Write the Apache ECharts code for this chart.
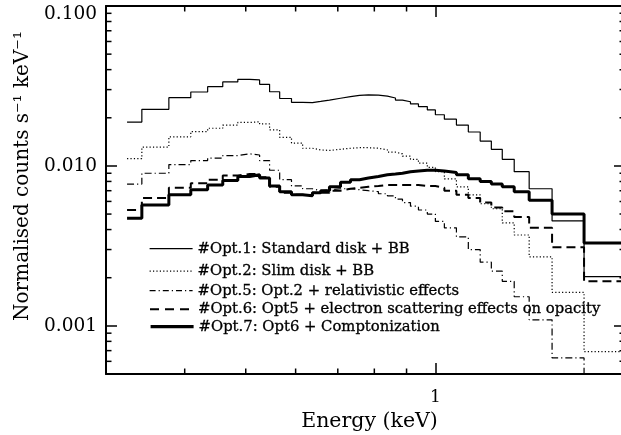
<!DOCTYPE html>
<html><head><meta charset="utf-8">
<script src="https://cdn.jsdelivr.net/npm/echarts@6/dist/echarts.min.js"></script>
<style>html,body{margin:0;padding:0;background:#fff}#c{width:621px;height:435px}</style>
</head><body><div id="c"></div>
<script>
// Bin edges in keV (39 edges -> 38 bins)
const binEdges = [0.324,0.342,0.3775,0.409,0.435,0.4597,0.4857,0.5073,0.526,0.5455,0.566,0.591,0.6155,0.638,0.6575,0.679,0.707,0.7333,0.7578,0.783,0.812,0.8392,0.8642,0.8867,0.913,0.940,0.971,1.0,1.0334,1.080,1.128,1.178,1.227,1.277,1.334,1.409,1.532,1.722,2.0];

const opt1 = [0.0188,0.0226,0.0267,0.0290,0.0313,0.0335,0.0348,0.0345,0.0324,0.0291,0.0264,0.0250,0.0249,0.0253,0.0258,0.0265,0.0271,0.0276,0.0278,0.0277,0.0273,0.0266,0.0258,0.0252,0.0244,0.0235,0.0224,0.0209,0.0196,0.0180,0.0163,0.0143,0.0127,0.0110,0.0092,0.0072,0.00453,0.00203];
const opt2 = [0.0111,0.0131,0.0152,0.0164,0.0172,0.0180,0.0187,0.0189,0.0183,0.0168,0.0151,0.0139,0.0129,0.0126,0.0125,0.0127,0.0129,0.0130,0.0130,0.0129,0.0126,0.0122,0.0119,0.0115,0.0110,0.0104,0.0098,0.0092,0.0083,0.0074,0.0066,0.0058,0.0054,0.0044,0.0037,0.0027,0.00162,0.00069];
const opt5 = [0.0077,0.0090,0.0102,0.0108,0.0112,0.0116,0.0119,0.0117,0.0108,0.0094,0.0082,0.0075,0.0072,0.0070,0.0071,0.0072,0.0072,0.0071,0.0070,0.0069,0.0067,0.0065,0.0062,0.0059,0.0056,0.0053,0.0050,0.0045,0.0041,0.0036,0.0030,0.0025,0.0022,0.0019,0.00152,0.00109,0.00063,0.0004];
const opt6 = [0.0053,0.0063,0.0073,0.0078,0.0082,0.0087,0.0089,0.0089,0.0085,0.0074,0.0068,0.0066,0.0065,0.0068,0.0068,0.0070,0.0072,0.0073,0.0074,0.0075,0.0076,0.0076,0.0076,0.0076,0.0076,0.0075,0.0075,0.0073,0.0070,0.0066,0.0063,0.0059,0.0055,0.0052,0.0048,0.0041,0.0031,0.0019];
const opt7 = [0.0047,0.0057,0.0066,0.0071,0.0076,0.0081,0.0086,0.0088,0.0084,0.0075,0.0069,0.0066,0.0065,0.0068,0.0070,0.0074,0.0079,0.0082,0.0084,0.0086,0.0088,0.0089,0.0090,0.0092,0.0093,0.0094,0.0094,0.0093,0.0091,0.0088,0.0083,0.0080,0.0077,0.0074,0.0069,0.0061,0.0050,0.0033];

const seriesNames = ['#Opt.1: Standard disk + BB','#Opt.2: Slim disk + BB','#Opt.5: Opt.2 + relativistic effects','#Opt.6: Opt5 + electron scattering effects on opacity','#Opt.7: Opt6 + Comptonization'];

const xRange = [0.3, 2.0];
const yRange = [0.0005, 0.1];
const xTickLabels = [1];
const yTickLabels = [0.001, 0.01, 0.1];
const xMinorTicks = [0.4,0.5,0.6,0.7,0.8,0.9];
const yMinorTicks = [0.0006,0.0007,0.0008,0.0009,0.002,0.003,0.004,0.005,0.006,0.007,0.008,0.009,0.02,0.03,0.04,0.05,0.06,0.07,0.08,0.09];

const FONT = 'DejaVu Serif';
function toStep(vals){
  const pts = vals.map((v,i)=>[binEdges[i], v]);
  pts.push([binEdges[binEdges.length-1], vals[vals.length-1]]);
  return pts;
}
const styles = [
  {width:1.2, type:'solid'},
  {width:1.2, type:[1.2,2.2]},
  {width:1.2, type:[7,3,1.2,3]},
  {width:2, type:[9,5]},
  {width:3, type:'solid'}
];
const legendStyles = [
  {width:1.2, type:'solid'},
  {width:1.2, type:[1.2,2.2]},
  {width:1.2, type:[6,3,1.2,3]},
  {width:2, type:[9,6]},
  {width:3.2, type:'solid'}
];
const allVals = [opt1,opt2,opt5,opt6,opt7];
const lineSeries = allVals.map((vals,k)=>({
  name: seriesNames[k], type:'line', step:'end', symbol:'none', showSymbol:false,
  data: toStep(vals), silent:true, animation:false,
  lineStyle:{color:'#000', width:styles[k].width, type:styles[k].type},
  itemStyle:{color:'#000'}
}));
const legendTops = [248, 270.5, 290, 308.5, 326];
const legends = seriesNames.map((n,k)=>({
  data:[n], left:144, top:legendTops[k]-12, itemWidth:43, itemHeight:14, selectedMode:false,
  itemStyle:{color:'rgba(0,0,0,0)', borderWidth:0, opacity:0},
  lineStyle:{color:'#000', width:legendStyles[k].width, type:legendStyles[k].type, opacity:1},
  textStyle:{fontFamily:FONT, fontSize:14.8, lineHeight:14, color:'#000', textBorderColor:'#000', textBorderWidth:0.3}
}));

function tickLine(x1,y1,x2,y2){return {type:'line', shape:{x1,y1,x2,y2}, style:{stroke:'#000', lineWidth:1.5}};}

const chart = echarts.init(document.getElementById('c'), null, {renderer:'canvas'});
const axisCommon = {
  axisLine:{show:true, lineStyle:{color:'#000', width:2}},
  axisTick:{show:true, inside:true, length:11, lineStyle:{color:'#000', width:1.5}},
  splitLine:{show:false}, minorTick:{show:false}
};
chart.setOption({
  animation:false,
  backgroundColor:'#fff',
  grid:{left:106, top:6, width:519, height:368, containLabel:false, outerBoundsMode:'none'},
  legend: legends,
  xAxis:[
    Object.assign({type:'log', logBase:10, min:xRange[0], max:xRange[1], position:'bottom',
      name:'Energy (keV)', nameLocation:'middle', nameGap:35,
      nameTextStyle:{fontFamily:FONT, fontSize:20.5, color:'#000', padding:[0,0,0,8]},
      axisLabel:{show:true, margin:15, fontFamily:FONT, fontSize:17, color:'#000', showMinLabel:false, showMaxLabel:false,
        formatter:v=> xTickLabels.some(t=>Math.abs(t-v)<1e-6) ? String(v) : ''}}, axisCommon),
    Object.assign({type:'log', logBase:10, min:xRange[0], max:xRange[1], position:'top', axisLabel:{show:false}}, axisCommon)
  ],
  yAxis:[
    Object.assign({type:'log', logBase:10, min:yRange[0], max:yRange[1], position:'left',
      name:'Normalised counts s⁻¹ keV⁻¹', nameLocation:'middle', nameGap:72,
      nameTextStyle:{fontFamily:FONT, fontSize:20, color:'#000', padding:[0,0,0,28]},
      axisLabel:{show:true, margin:9, fontFamily:FONT, fontSize:18.5, color:'#000', showMinLabel:false,
        formatter:v=>{
          const t = yTickLabels.find(t=>Math.abs(t-v)/t<1e-6);
          if (t===undefined) return '';
          if (t===yRange[1]) return '{top|'+t.toFixed(3)+'}';
          return t.toFixed(3);
        },
        rich:{top:{fontFamily:FONT, fontSize:18.5, color:'#000', padding:[16,0,0,0]}}
      }}, axisCommon),
    Object.assign({type:'log', logBase:10, min:yRange[0], max:yRange[1], position:'right', axisLabel:{show:false}}, axisCommon)
  ],
  series: lineSeries.concat([
    {type:'custom', silent:true, clip:false, animation:false, z:5,
     data: yMinorTicks.map(v=>[xRange[0], v]),
     renderItem:(params, api)=>{
       const p = api.coord([xRange[0], api.value(1)]);
       const q = api.coord([xRange[1], api.value(1)]);
       return {type:'group', children:[tickLine(p[0],p[1],p[0]+5.5,p[1]), tickLine(q[0]-5.5,q[1],q[0],q[1])]};
     }},
    {type:'custom', silent:true, clip:false, animation:false, z:5,
     data: xMinorTicks.map(v=>[v, yRange[0]]),
     renderItem:(params, api)=>{
       const p = api.coord([api.value(0), yRange[0]]);
       const q = api.coord([api.value(0), yRange[1]]);
       return {type:'group', children:[tickLine(p[0],p[1],p[0],p[1]-5.5), tickLine(q[0],q[1],q[0],q[1]+5.5)]};
     }}
  ])
});
</script></body></html>
